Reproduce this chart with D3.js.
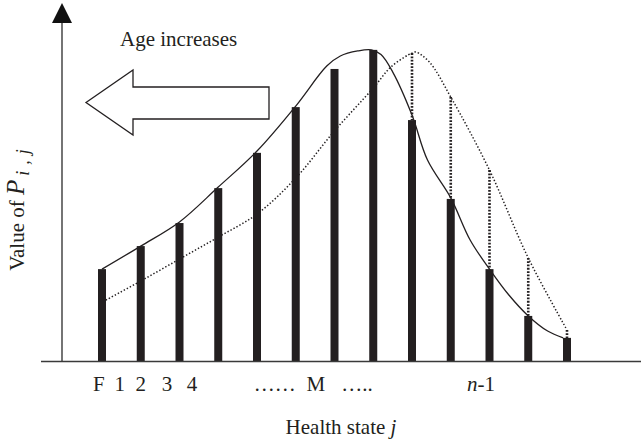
<!DOCTYPE html>
<html>
<head>
<meta charset="utf-8">
<script src="https://cdn.jsdelivr.net/npm/d3@7"></script>
<style>
  html, body { margin: 0; padding: 0; background: #fff; }
  svg { display: block; }
  text { font-family: "Liberation Serif", "Times New Roman", serif; fill: #231f20; }
</style>
</head>
<body>
<div id="chart"></div>
<script>
// estados de salud (indices 0..12) y altura de las barras
const estados = d3.range(13);
const barras = [25.8, 32.2, 38.6, 48.3, 58.1, 70.8, 81.4, 86.7, 67.2, 45.3, 25.8, 12.8, 6.7];

// curva continua (edad actual) : [estado, valor]
const curvaActual = [
  [0, 25.8], [1, 32.2], [2, 38.9], [3, 48.6], [4, 58.6], [5, 71.1],
  [5.8, 82.2], [6.15, 85.0], [6.6, 86.4], [6.95, 86.7], [7.2, 85.4], [7.5, 80.6],
  [8, 68.6], [8.4, 56.1], [9, 45.6], [9.5, 33.9], [10, 25.8], [10.5, 18.6],
  [11, 12.8], [11.5, 8.6], [11.9, 6.7]
];

// curva punteada (edad anterior)
const curvaAnterior = [
  [0.1, 17.2], [1, 22.5], [2, 28.6], [3, 34.7], [4, 41.1], [5, 51.1],
  [6, 64.2], [7, 76.1], [7.45, 81.9], [7.9, 85.3], [8, 85.8], [8.1, 86.1],
  [8.45, 83.3], [9, 73.6], [10, 53.3], [11, 28.9], [12, 8.9]
];

// barras con linea punteada vertical hasta la curva anterior
const caidas = [8, 9, 10, 11, 12];

// etiquetas del eje x y su posicion (en unidades de estado)
const etiquetas = ["F", "1", "2", "3", "4", "\u2026\u2026", "M", "\u2026..", "n-1"];
const posEtiquetas = [-0.08, 0.46, 1.0, 1.68, 2.32, 4.46, 5.52, 6.58, 9.78];

const width = 641, height = 442;
const ejeX = 62;       // linea vertical
const base = 362;      // linea horizontal

const x = d3.scaleLinear().domain([0, 12]).range([102, 567]);
const y = d3.scaleLinear().domain([0, 100]).range([base, 2]);

const svg = d3.select("#chart").append("svg")
  .attr("width", width)
  .attr("height", height);

const tinta = "#231f20";

// curva anterior punteada
const linea = d3.line()
  .x(d => x(d[0]))
  .y(d => y(d[1]))
  .curve(d3.curveCatmullRom.alpha(0.5));

svg.append("path")
  .datum(curvaAnterior)
  .attr("d", linea)
  .attr("fill", "none")
  .attr("stroke", tinta)
  .attr("stroke-width", 1.5)
  .attr("stroke-dasharray", "1.4,2");

// verticales punteadas
caidas.forEach(i => {
  const p = curvaAnterior.find(d => d[0] === i);
  svg.append("line")
    .attr("x1", x(i)).attr("x2", x(i))
    .attr("y1", y(p[1])).attr("y2", y(barras[i]))
    .attr("stroke", tinta)
    .attr("stroke-width", 2.6)
    .attr("stroke-dasharray", "1.8,1.5");
});

// curva actual continua
svg.append("path")
  .datum(curvaActual)
  .attr("d", linea)
  .attr("fill", "none")
  .attr("stroke", tinta)
  .attr("stroke-width", 1.3);

// barras
svg.selectAll("rect.barra")
  .data(estados)
  .join("rect")
  .attr("class", "barra")
  .attr("x", i => x(i) - 4)
  .attr("width", 8)
  .attr("y", i => y(barras[i]))
  .attr("height", i => y(0) - y(barras[i]))
  .attr("fill", tinta);

// ejes
svg.append("line")
  .attr("x1", 41).attr("x2", width)
  .attr("y1", base - 0.5).attr("y2", base - 0.5)
  .attr("stroke", "#3a3a3a").attr("stroke-width", 1.4);

svg.append("line")
  .attr("x1", ejeX).attr("x2", ejeX)
  .attr("y1", base).attr("y2", 20)
  .attr("stroke", "#3a3a3a").attr("stroke-width", 1.4);

svg.append("path")
  .attr("d", `M${ejeX},3 L${ejeX + 10},23 L${ejeX - 10},23 Z`)
  .attr("fill", "#111");

// flecha "Age increases"
svg.append("path")
  .attr("d", "M86,102.5 L133,70 L133,87 L269,87 L269,119 L133,119 L133,135 Z")
  .attr("fill", "#fff")
  .attr("stroke", tinta)
  .attr("stroke-width", 1.3)
  .attr("stroke-linejoin", "miter");

svg.append("text")
  .attr("x", 120).attr("y", 46)
  .attr("font-size", 21)
  .text("Age increases");

// etiquetas del eje x
const gEtiq = svg.append("g").attr("font-size", 21).attr("text-anchor", "middle");
etiquetas.forEach((t, k) => {
  const txt = gEtiq.append("text")
    .attr("x", x(posEtiquetas[k]))
    .attr("y", 391);
  if (t === "n-1") {
    txt.append("tspan").attr("font-style", "italic").text("n");
    txt.append("tspan").text("-1");
  } else {
    txt.text(t);
  }
});

// titulo eje x
const tx = svg.append("text")
  .attr("x", 341).attr("y", 434)
  .attr("font-size", 21)
  .attr("text-anchor", "middle");
tx.append("tspan").text("Health state ");
tx.append("tspan").attr("font-style", "italic").text("j");

// titulo eje y
const ty = svg.append("text")
  .attr("transform", "translate(24,207) rotate(-90)")
  .attr("font-size", 21)
  .attr("text-anchor", "middle");
ty.append("tspan").text("Value of ");
ty.append("tspan").attr("font-style", "italic").attr("font-size", 25).text("P");
ty.append("tspan").attr("font-style", "italic").attr("font-size", 18)
  .attr("dy", 5).attr("dx", 4).attr("letter-spacing", 6).text("i,j");
</script>
</body>
</html>
